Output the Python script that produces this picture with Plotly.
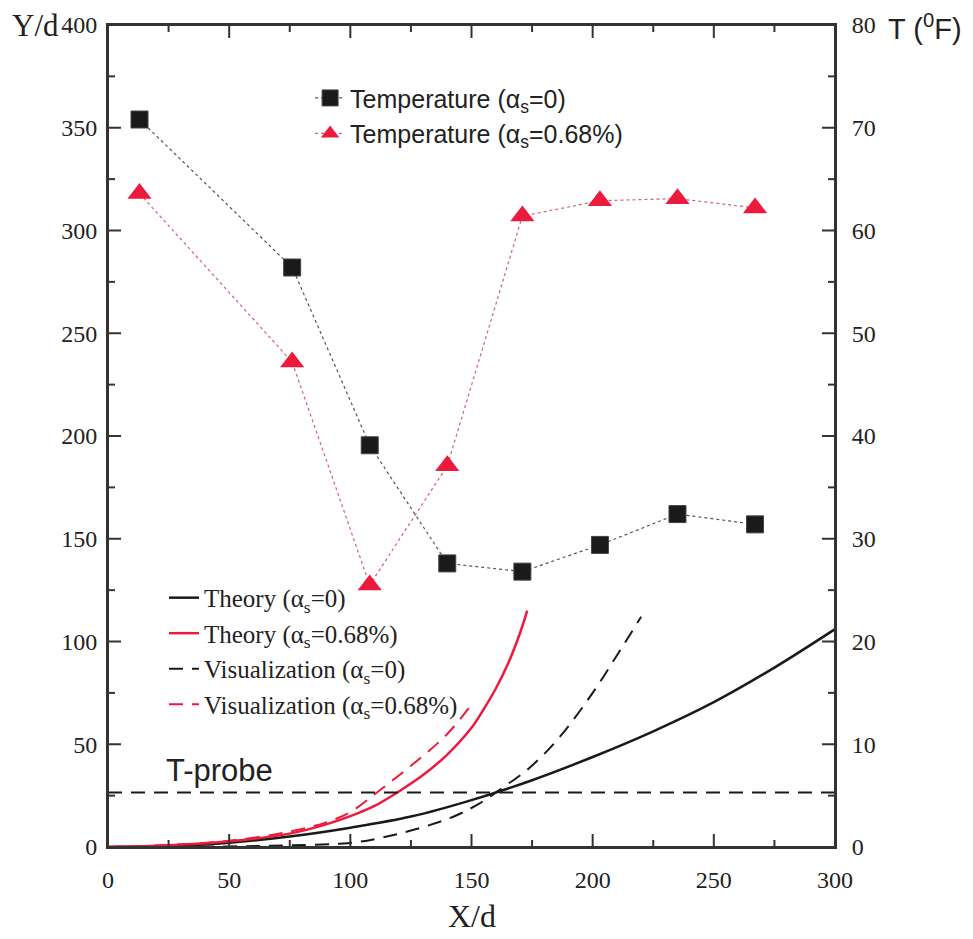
import plotly.graph_objects as go

# Measured temperatures along the channel (right axis, deg F)
temp_x = [13, 76, 108, 140, 171, 203, 235, 267]
temp_as0 = [70.8, 56.4, 39.1, 27.6, 26.8, 29.4, 32.4, 31.4]
temp_as068 = [63.6, 47.2, 25.5, 37.1, 61.4, 62.9, 63.1, 62.2]

# Theoretical trajectories Y/d vs X/d (left axis)
theory0_x = [0, 25, 50, 75, 100, 125, 150, 175, 200, 225, 250, 275, 300]
theory0_y = [0, 0.5, 2.1, 5.1, 9.4, 14.8, 22.8, 32.5, 43.8, 56.3, 70.5, 87.3, 106]

theory068_x = [0, 25, 50, 75, 90, 100, 110, 120, 130, 140, 150, 155, 160, 165, 170, 173]
theory068_y = [0, 0.8, 2.8, 6.5, 11, 15, 20, 27, 35, 45, 58, 67, 77, 89, 104, 115]

# Visualized trajectories
vis0_x = [0, 50, 75, 100, 112, 125, 142, 153, 163, 174, 186, 200, 212, 220]
vis0_y = [0, 0.3, 0.8, 2, 4.3, 8, 14.5, 21, 29, 38.6, 53, 75, 97, 112]

vis068_x = [0, 25, 50, 75, 90, 100, 112, 126, 140, 151]
vis068_y = [0, 1, 3, 7.5, 12, 17, 27.5, 40.5, 55, 71]

# Thermocouple probe height
probe_y = 26.5
probe_x = [0, 300]

# Tick values
x_major = [0, 50, 100, 150, 200, 250, 300]
x_minor = [25, 75, 125, 175, 225, 275]
y_major = [0, 50, 100, 150, 200, 250, 300, 350, 400]
y_minor = [25, 75, 125, 175, 225, 275, 325, 375]
t_major = [0, 10, 20, 30, 40, 50, 60, 70, 80]
t_minor = [5, 15, 25, 35, 45, 55, 65, 75]

RED = "#ec1a3c"
BLACK = "#1a1a1a"
INK = "#222222"
AXIS = "#333333"
SERIF = "Liberation Serif"
SANS = "Liberation Sans"
MAJOR_LEN = 13
MINOR_LEN = 7

fig = go.Figure()

# Trajectory curves (serif legend)
fig.add_trace(go.Scatter(x=theory0_x, y=theory0_y, mode="lines", line=dict(color=BLACK, width=2.5, shape="spline"),
                         name="Theory (α<sub>s</sub>=0)", legend="legend2"))
fig.add_trace(go.Scatter(x=theory068_x, y=theory068_y, mode="lines", line=dict(color=RED, width=2.5, shape="spline"),
                         name="Theory (α<sub>s</sub>=0.68%)", legend="legend2"))
fig.add_trace(go.Scatter(x=vis0_x, y=vis0_y, mode="lines", line=dict(color=BLACK, width=2, dash="14px,9px", shape="spline"),
                         name="Visualization (α<sub>s</sub>=0)", legend="legend2"))
fig.add_trace(go.Scatter(x=vis068_x, y=vis068_y, mode="lines", line=dict(color=RED, width=2, dash="14px,9px", shape="spline"),
                         name="Visualization (α<sub>s</sub>=0.68%)", legend="legend2"))

# Probe line
fig.add_trace(go.Scatter(x=probe_x, y=[probe_y, probe_y], mode="lines", line=dict(color=BLACK, width=2, dash="14px,9px"),
                         showlegend=False, hoverinfo="skip"))

# Temperature series on the right axis (sans legend)
fig.add_trace(go.Scatter(x=temp_x, y=temp_as0, mode="lines+markers", yaxis="y2",
                         line=dict(color="#555555", width=1.2, dash="dot"),
                         marker=dict(symbol="square", size=17, color=BLACK, line=dict(color="#444", width=1)),
                         name="Temperature (α<sub>s</sub>=0)", legend="legend"))
fig.add_trace(go.Scatter(x=temp_x, y=temp_as068, mode="lines+markers", yaxis="y2",
                         line=dict(color="#d0607a", width=1.2, dash="dot"),
                         marker=dict(symbol="triangle-up", size=21, color=RED),
                         name="Temperature (α<sub>s</sub>=0.68%)", legend="legend"))


def axis_style(vals, standoff):
    return dict(showgrid=False, zeroline=False, showline=True, linecolor=AXIS, linewidth=2,
                ticks="", tickmode="array", tickvals=vals, ticklabelstandoff=standoff,
                tickfont=dict(family=SERIF, size=24, color=INK))


# Frame plus inward-pointing tick marks, positioned by the axis scales
tick_line = dict(color=AXIS, width=2)
shapes = [dict(type="rect", xref="paper", yref="paper", x0=0, x1=1, y0=0, y1=1, line=tick_line, layer="above")]
for vals, length in ((x_major, MAJOR_LEN), (x_minor, MINOR_LEN)):
    for v in vals:
        for anchor, sign in ((0, 1), (1, -1)):
            shapes.append(dict(type="line", xref="x", yref="paper", x0=v, x1=v, ysizemode="pixel", yanchor=anchor,
                               y0=0, y1=sign * length, line=tick_line, layer="above"))
for vals, length in ((y_major, MAJOR_LEN), (y_minor, MINOR_LEN)):
    for v in vals:
        shapes.append(dict(type="line", xref="paper", yref="y", y0=v, y1=v, xsizemode="pixel", xanchor=0,
                           x0=0, x1=length, line=tick_line, layer="above"))
for vals, length in ((t_major, MAJOR_LEN), (t_minor, MINOR_LEN)):
    for v in vals:
        shapes.append(dict(type="line", xref="paper", yref="y2", y0=v, y1=v, xsizemode="pixel", xanchor=1,
                           x0=0, x1=-length, line=tick_line, layer="above"))

fig.update_layout(
    width=973, height=939,
    margin=dict(l=108, r=138, t=18, b=92),
    paper_bgcolor="white", plot_bgcolor="white",
    xaxis=dict(range=[0, 300], mirror=True, **axis_style(x_major, 10)),
    yaxis=dict(range=[0, 400], **axis_style(y_major, 4)),
    yaxis2=dict(range=[0, 80], overlaying="y", side="right", **axis_style(t_major, 10)),
    shapes=shapes,
    legend=dict(x=0.278, y=0.939, xanchor="left", yanchor="top", bgcolor="rgba(0,0,0,0)",
                font=dict(family=SANS, size=25, color=INK)),
    legend2=dict(x=0.077, y=0.331, xanchor="left", yanchor="top", bgcolor="rgba(0,0,0,0)",
                 font=dict(family=SERIF, size=25, color=INK)),
    annotations=[
        dict(text="Y/d", xref="paper", yref="paper", x=-0.135, y=1.0, xanchor="left", yanchor="middle",
             showarrow=False, font=dict(family=SERIF, size=31, color=INK)),
        dict(text="T (<sup>0</sup>F)", xref="paper", yref="paper", x=1.07, y=0.998, xanchor="left", yanchor="middle",
             showarrow=False, font=dict(family=SANS, size=29, color=INK)),
        dict(text="X/d", xref="paper", yref="paper", x=0.5, y=-0.06, xanchor="center", yanchor="top",
             showarrow=False, font=dict(family=SERIF, size=32, color=INK)),
        dict(text="T-probe", xref="x", yref="y", x=23, y=37, xanchor="left", yanchor="middle",
             showarrow=False, font=dict(family=SANS, size=31, color=INK)),
    ],
)

fig.write_html("out.html")
